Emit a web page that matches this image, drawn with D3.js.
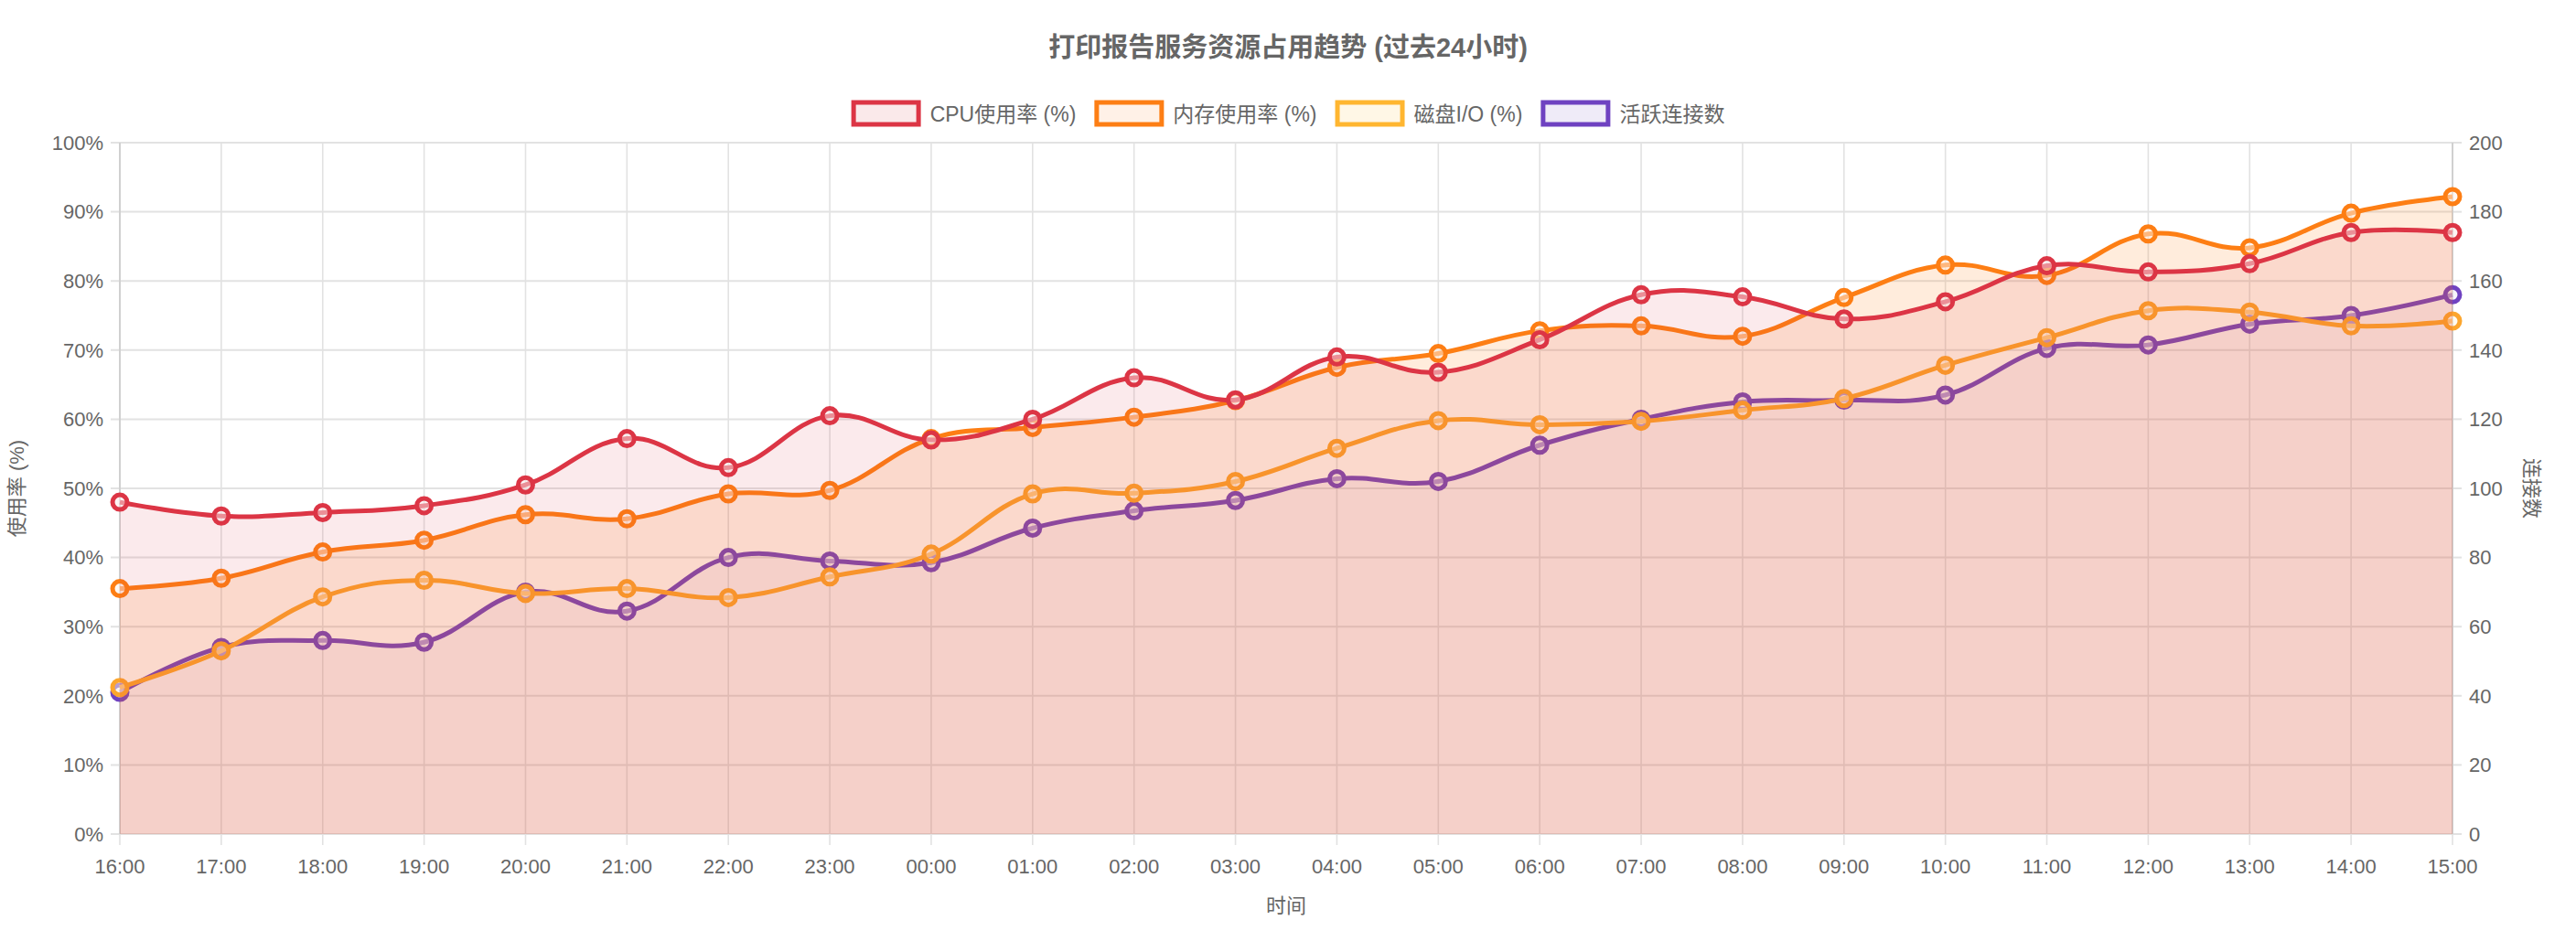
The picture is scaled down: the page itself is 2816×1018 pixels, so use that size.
<!DOCTYPE html>
<html><head><meta charset="utf-8">
<script src="https://cdn.jsdelivr.net/npm/d3@7/dist/d3.min.js"></script>
<style>body{margin:0;background:#fff;}svg{display:block;font-family:"Liberation Sans","Noto Sans CJK SC",sans-serif;}</style>
</head><body><svg id="c" width="2816" height="1018"></svg>
<script>
const hours = ["16:00","17:00","18:00","19:00","20:00","21:00","22:00","23:00","00:00","01:00","02:00","03:00","04:00","05:00","06:00","07:00","08:00","09:00","10:00","11:00","12:00","13:00","14:00","15:00"];
const cpu = [48,46,46.5,47.5,50.5,57.2,53,60.5,57,60,66,62.8,69,66.8,71.5,78,77.7,74.5,77,82.2,81.3,82.5,87,87];
const mem = [35.5,37,40.8,42.5,46.2,45.6,49.2,49.7,57.2,58.8,60.3,62.7,67.5,69.5,72.8,73.5,72,77.6,82.3,80.8,86.8,84.8,89.8,92.2];
const disk = [21.2,26.5,34.3,36.7,34.8,35.5,34.2,37.2,40.5,49.2,49.3,51,55.8,59.8,59.2,59.7,61.3,63,67.8,71.8,75.7,75.5,73.5,74.2];
const conn = [41,54,56,55.5,70,64.5,80,79,78.5,88.5,93.5,96.5,102.8,102,112.5,120,125,125.5,127,140.5,141.5,147.5,150,156];
const leftTicks = [0,10,20,30,40,50,60,70,80,90,100];
const rightTicks = [0,20,40,60,80,100,120,140,160,180,200];

const series = [
 {name:"CPU使用率 (%)", data:cpu, color:"#dc3545", lcolor:"#dc3545", fill:"rgba(220,53,69,0.1)", legFill:"#fae9ea", axis:"l"},
 {name:"内存使用率 (%)", data:mem, color:"#fd7e14", lcolor:"#fd7e14", fill:"rgba(253,126,20,0.15)", legFill:"#fff1e7", axis:"l"},
 {name:"磁盘I/O (%)", data:disk, color:"#fca62e", lcolor:"#ffb630", fill:"rgba(255,193,7,0)", legFill:"#fff7e6", axis:"l"},
 {name:"活跃连接数", data:conn, color:"#6f42c1", lcolor:"#6f42c1", fill:"rgba(111,66,193,0.05)", legFill:"#efebf8", axis:"r"}
];
const L=131,R=2681,T=156,B=912;
const svg=d3.select("#c");
const x=d3.scalePoint().domain(hours).range([L,R]);
const yl=d3.scaleLinear().domain([0,100]).range([B,T]);
const yr=d3.scaleLinear().domain([0,200]).range([B,T]);
const grid="#e2e2e2", txt="#666";

svg.append("g").selectAll("line").data(leftTicks).join("line")
 .attr("x1",L-10).attr("x2",R).attr("y1",d=>yl(d)).attr("y2",d=>yl(d)).attr("stroke",grid).attr("stroke-width",2);
svg.append("g").selectAll("line").data(hours).join("line")
 .attr("x1",d=>x(d)).attr("x2",d=>x(d)).attr("y1",T).attr("y2",B+12).attr("stroke",grid).attr("stroke-width",1.6);
svg.append("g").selectAll("line").data(rightTicks).join("line")
 .attr("x1",R).attr("x2",R+10).attr("y1",d=>yr(d)).attr("y2",d=>yr(d)).attr("stroke",grid).attr("stroke-width",2);
svg.append("line").attr("x1",L).attr("x2",L).attr("y1",T).attr("y2",B).attr("stroke","#d0d0d0").attr("stroke-width",2);
svg.append("line").attr("x1",R).attr("x2",R).attr("y1",T).attr("y2",B).attr("stroke","#d0d0d0").attr("stroke-width",2);

svg.append("g").selectAll("text").data(leftTicks).join("text")
 .attr("x",L-18).attr("y",d=>yl(d)).attr("dy","0.35em").attr("text-anchor","end").attr("font-size",22).attr("fill",txt).text(d=>d+"%");
svg.append("g").selectAll("text").data(rightTicks).join("text")
 .attr("x",R+18).attr("y",d=>yr(d)).attr("dy","0.35em").attr("text-anchor","start").attr("font-size",22).attr("fill",txt).text(d=>d);
svg.append("g").selectAll("text").data(hours).join("text")
 .attr("x",d=>x(d)).attr("y",947).attr("dy","0.35em").attr("text-anchor","middle").attr("font-size",22).attr("fill",txt).text(d=>d);

svg.append("text").attr("x",(L+R)/2).attr("y",990).attr("dy","0.35em").attr("text-anchor","middle").attr("font-size",22).attr("fill",txt).text("时间");
svg.append("text").attr("transform",`translate(18,${(T+B)/2}) rotate(-90)`).attr("dy","0.35em").attr("text-anchor","middle").attr("font-size",22).attr("fill",txt).text("使用率 (%)");
svg.append("text").attr("transform",`translate(2768,${(T+B)/2}) rotate(90)`).attr("dy","0.35em").attr("text-anchor","middle").attr("font-size",22).attr("fill",txt).text("连接数");
svg.append("text").attr("x",1408).attr("y",52).attr("dy","0.35em").attr("text-anchor","middle").attr("font-size",29).attr("font-weight","bold").attr("fill",txt).text("打印报告服务资源占用趋势 (过去24小时)");

const curve=d3.curveCardinal.tension(-0.2);
series.slice().reverse().forEach(s=>{
  const y=s.axis==="l"?yl:yr;
  const area=d3.area().x((d,i)=>x(hours[i])).y0(B).y1(d=>y(d)).curve(curve);
  const line=d3.line().x((d,i)=>x(hours[i])).y(d=>y(d)).curve(curve);
  svg.append("path").datum(s.data).attr("d",area).attr("fill",s.fill);
  svg.append("path").datum(s.data).attr("d",line).attr("fill","none").attr("stroke",s.color).attr("stroke-width",5);
  svg.append("g").selectAll("circle").data(s.data).join("circle")
   .attr("cx",(d,i)=>x(hours[i])).attr("cy",d=>y(d)).attr("r",8).attr("fill",s.legFill).attr("fill-opacity",0.5).attr("stroke",s.color).attr("stroke-width",5);
});

const lg=svg.append("g");
const fs=23;
let widths=series.map(s=>{const t=svg.append("text").attr("font-size",fs).text(s.name);const w=t.node().getComputedTextLength();t.remove();return w;});
const box=76, gap=10, sp=20;
let total=d3.sum(widths)+series.length*(box+gap)+(series.length-1)*sp;
let cx=1408-total/2;
series.forEach((s,i)=>{
  lg.append("rect").attr("x",cx+2.5).attr("y",112).attr("width",box-5).attr("height",24).attr("fill",s.legFill).attr("stroke",s.lcolor).attr("stroke-width",5);
  lg.append("text").attr("x",cx+box+gap).attr("y",125).attr("dy","0.35em").attr("font-size",fs).attr("fill",txt).text(s.name);
  cx+=box+gap+widths[i]+sp;
});
</script></body></html>
